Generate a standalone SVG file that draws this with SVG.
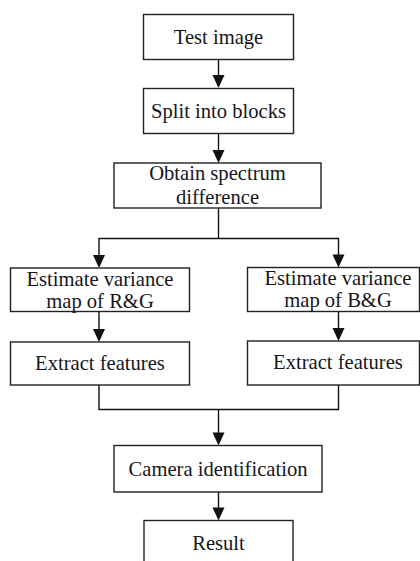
<svg xmlns="http://www.w3.org/2000/svg" width="420" height="561" viewBox="0 0 420 561">
  <style>
    .box { fill: #ffffff; stroke: #222222; stroke-width: 1.4; }
    .lbl { font-family: "Liberation Serif", "Times New Roman", serif; font-size: 20.6px; fill: #161620; text-anchor: middle; }
    .wire { fill: none; stroke: #111111; stroke-width: 1.4; }
    .head { fill: #111111; }
  </style>
  <defs>
    <!-- downward arrowhead, tip at (0,0) -->
    <polygon id="head" class="head" points="-6,-13 6,-13 0,0"/>
  </defs>
  <rect width="420" height="561" fill="#ffffff"/>

  <!-- connectors -->
  <g id="connectors">
    <line class="wire" x1="218.5" y1="59.5" x2="218.5" y2="76"/>
    <use href="#head" x="218.5" y="88"/>
    <line class="wire" x1="218.5" y1="133.5" x2="218.5" y2="151"/>
    <use href="#head" x="218.5" y="163"/>
    <!-- fork to the two channel branches -->
    <line class="wire" x1="218.5" y1="208" x2="218.5" y2="238.5"/>
    <polyline class="wire" points="99,256 99,238.5 338.5,238.5 338.5,255.5"/>
    <use href="#head" x="99" y="268"/>
    <use href="#head" x="338.5" y="267.5"/>
    <line class="wire" x1="99" y1="311.5" x2="99" y2="330"/>
    <use href="#head" x="99" y="342"/>
    <line class="wire" x1="338.5" y1="311.5" x2="338.5" y2="329"/>
    <use href="#head" x="338.5" y="341"/>
    <!-- merge of the two feature sets -->
    <polyline class="wire" points="99,385 99,409.5 338.5,409.5 338.5,385"/>
    <line class="wire" x1="218.5" y1="409.5" x2="218.5" y2="433.5"/>
    <use href="#head" x="218.5" y="445.5"/>
    <line class="wire" x1="218.5" y1="492" x2="218.5" y2="508.5"/>
    <use href="#head" x="218.5" y="520.5"/>
  </g>

  <g id="test-image">
    <rect class="box" x="143.5" y="14.5" width="150" height="45"/>
    <text class="lbl" x="218.5" y="44">Test image</text>
  </g>

  <g id="split-blocks">
    <rect class="box" x="143.5" y="88.5" width="150" height="45"/>
    <text class="lbl" x="218.5" y="118">Split into blocks</text>
  </g>

  <g id="spectrum-difference">
    <rect class="box" x="114" y="163" width="207" height="45"/>
    <text class="lbl" x="217.5" y="179.5">Obtain spectrum</text>
    <text class="lbl" x="217.5" y="203.5">difference</text>
  </g>

  <g id="variance-rg">
    <rect class="box" x="10.5" y="268" width="179" height="43.5"/>
    <text class="lbl" x="100" y="285.5">Estimate variance</text>
    <text class="lbl" x="100" y="307.5">map of R&amp;G</text>
  </g>

  <g id="variance-bg">
    <rect class="box" x="247.5" y="267.5" width="172" height="44"/>
    <text class="lbl" x="338" y="284.5">Estimate variance</text>
    <text class="lbl" x="338" y="307">map of B&amp;G</text>
  </g>

  <g id="features-rg">
    <rect class="box" x="10.5" y="342" width="179" height="43"/>
    <text class="lbl" x="100" y="370">Extract features</text>
  </g>

  <g id="features-bg">
    <rect class="box" x="247.5" y="341" width="172" height="44"/>
    <text class="lbl" x="338" y="369">Extract features</text>
  </g>

  <g id="camera-identification">
    <rect class="box" x="114" y="445.5" width="208" height="46.5"/>
    <text class="lbl" x="218" y="476">Camera identification</text>
  </g>

  <g id="result">
    <rect class="box" x="144" y="520.5" width="149" height="60"/>
    <text class="lbl" x="218.5" y="549.5">Result</text>
  </g>
</svg>
